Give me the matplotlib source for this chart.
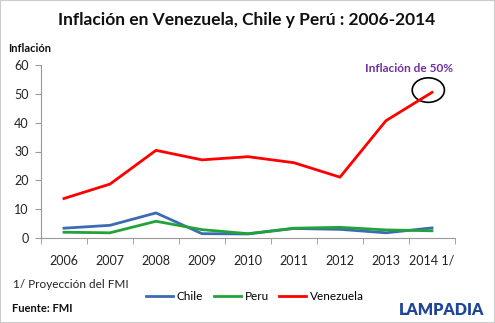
import matplotlib.pyplot as plt
from matplotlib.patches import Ellipse, Rectangle

years = ["2006", "2007", "2008", "2009", "2010", "2011", "2012", "2013", "2014 1/"]
chile = [3.4, 4.4, 8.7, 1.5, 1.4, 3.3, 3.0, 1.8, 3.5]
peru = [2.0, 1.8, 5.8, 2.9, 1.5, 3.4, 3.7, 2.8, 2.5]
venezuela = [13.7, 18.7, 30.4, 27.1, 28.2, 26.1, 21.1, 40.7, 50.5]

plt.rcParams['font.family'] = ['Lato', 'DejaVu Sans']

fig = plt.figure(figsize=(4.95, 3.23), dpi=100)
ax = fig.add_axes([41 / 495, 1 - 238 / 323, 414 / 495, 173 / 323])

x = list(range(len(years)))
ax.plot(x, chile, color='#3c6bb4', lw=2.0, label='Chile')
ax.plot(x, peru, color='#21a33a', lw=2.0, label='Peru')
ax.plot(x, venezuela, color='#ff0000', lw=2.0, label='Venezuela')

ax.set_xlim(-0.5, 8.5)
ax.set_ylim(0, 60)
ax.set_yticks(range(0, 61, 10))
ax.set_xticks(x)
ax.set_xticklabels(years)
ax.set_xticks([i - 0.5 for i in range(len(years) + 1)], minor=True)
ax.tick_params(axis='x', which='major', length=0, pad=12, labelsize=9, colors='#222222')
ax.tick_params(axis='x', which='minor', length=4, color='#999999')
ax.tick_params(axis='y', length=4, color='#999999', labelsize=9, labelcolor='#222222', pad=5)
for s in ['top', 'right']:
    ax.spines[s].set_visible(False)
for s in ['left', 'bottom']:
    ax.spines[s].set_color('#999999')

# circulo alrededor del punto 2014
ax.add_patch(Ellipse((7.92, 51.3), 0.7, 8.5, fill=False, ec='black', lw=1.2, clip_on=False))
ax.text(7.5, 58.8, 'Inflación de 50%', color='#7030a0', fontsize=8.6, fontweight='bold',
        ha='center', va='center')

fig.text(247 / 495, 1 - 20 / 323, 'Inflación en Venezuela, Chile y Perú : 2006-2014',
         ha='center', va='center', fontsize=12.5, fontweight='bold', color='#111111')
fig.text(8 / 495, 1 - 49 / 323, 'Inflación', ha='left', va='center', fontsize=8,
         fontweight='bold', color='#111111')
fig.text(13 / 495, 1 - 284 / 323, '1/ Proyección del FMI', ha='left', va='center',
         fontsize=8.5, color='#222222')
fig.text(12 / 495, 1 - 308 / 323, 'Fuente: FMI', ha='left', va='center', fontsize=8,
         fontweight='bold', color='#111111')
fig.text(442 / 495, 1 - 310 / 323, 'LAMPADIA', ha='center', va='center', fontsize=11.5,
         fontweight='heavy', color='#1f4596')

fig.legend(loc='center', bbox_to_anchor=(255 / 495, 1 - 297 / 323), ncol=3, frameon=False,
           fontsize=8.5, handlelength=2.3, handletextpad=0.3, columnspacing=0.9,
           borderaxespad=0)

fig.patches.append(Rectangle((0, 0), 1, 1, transform=fig.transFigure, fill=False,
                             ec='#cccccc', lw=1.5))

fig.savefig('out.png', dpi=100)
